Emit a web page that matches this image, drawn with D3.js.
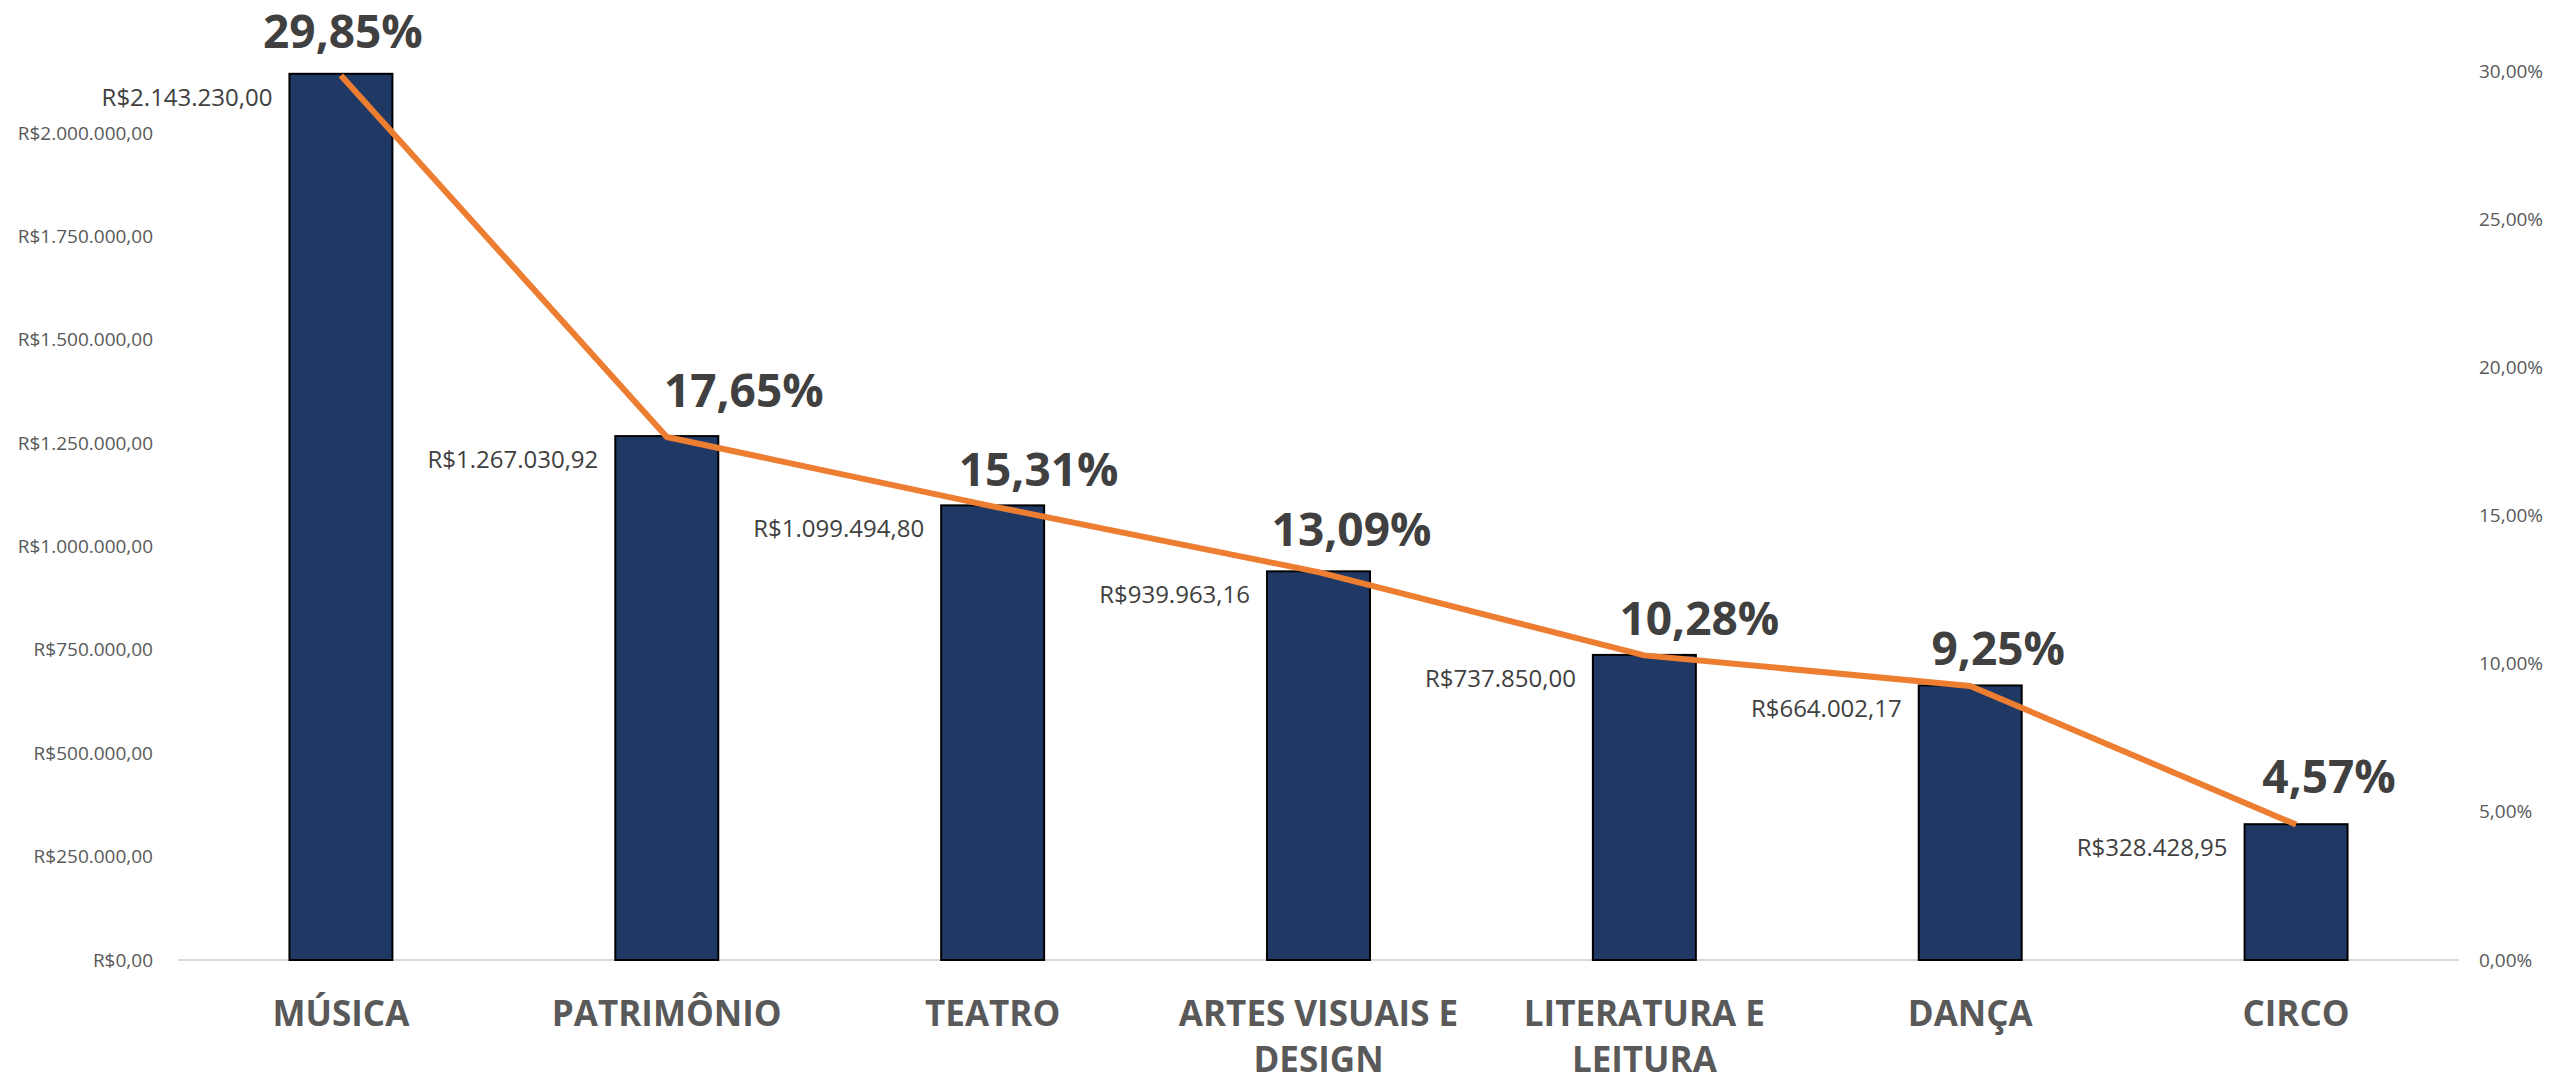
<!DOCTYPE html>
<html>
<head>
<meta charset="utf-8">
<script src="https://cdn.jsdelivr.net/npm/d3@7"></script>
<style>
  html, body { margin: 0; padding: 0; background: #fff; }
  svg { display: block; }
</style>
</head>
<body>
<svg id="chart" width="2552" height="1084"></svg>
<script>
// ---- data ----
const categorias = [["MÚSICA"], ["PATRIMÔNIO"], ["TEATRO"], ["ARTES VISUAIS E", "DESIGN"], ["LITERATURA E", "LEITURA"], ["DANÇA"], ["CIRCO"]];
const valores = [2143230.00, 1267030.92, 1099494.80, 939963.16, 737850.00, 664002.17, 328428.95];
const percentuais = [0.2985, 0.1765, 0.1531, 0.1309, 0.1028, 0.0925, 0.0457];
const ticksValor = [0, 250000, 500000, 750000, 1000000, 1250000, 1500000, 1750000, 2000000];
const ticksPerc = [0, 0.05, 0.10, 0.15, 0.20, 0.25, 0.30];

// label placement offsets (layout, px) for the percentage labels
const pctDx = [2, 77, 46, 33, 55, 28, 33];
const pctDy = [-27, -30, -20, -26, -20, -21, -32];

// ---- layout ----
const W = 2552, H = 1084;
const x0 = 178, x1 = 2459, yBase = 960, yTop = 71;

const loc = d3.formatLocale({decimal: ",", thousands: ".", grouping: [3], currency: ["R$", ""]});
const fmtMoney = loc.format("$,.2f");
const fmtPct = loc.format(".2%");

const svg = d3.select("#chart");
const ids = d3.range(categorias.length);

const x = d3.scaleBand().domain(ids).range([x0, x1]).paddingInner(0).paddingOuter(0);
const barW = x.bandwidth() * 0.316;
const yL = d3.scaleLinear().domain([0, 2150000]).range([yBase, yTop]);
const yR = d3.scaleLinear().domain([0, 0.30]).range([yBase, yTop]);

const font = "'Open Sans', 'DejaVu Sans', sans-serif";

// left axis
const axL = svg.append("g").attr("transform", `translate(153,0)`)
  .call(d3.axisLeft(yL).tickValues(ticksValor).tickFormat(fmtMoney).tickSize(0).tickPadding(0));
axL.select(".domain").remove();
axL.selectAll("text").attr("font-family", font).attr("font-size", 19).attr("fill", "#595959");

// right axis
const axR = svg.append("g").attr("transform", `translate(2479,0)`)
  .call(d3.axisRight(yR).tickValues(ticksPerc).tickFormat(fmtPct).tickSize(0).tickPadding(0));
axR.select(".domain").remove();
axR.selectAll("text").attr("font-family", font).attr("font-size", 19).attr("fill", "#595959");

// baseline
svg.append("line").attr("x1", x0).attr("x2", x1).attr("y1", yBase).attr("y2", yBase)
  .attr("stroke", "#d9d9d9").attr("stroke-width", 2);

// bars
svg.append("g").selectAll("rect").data(ids).join("rect")
  .attr("x", i => x(i) + x.bandwidth() / 2 - barW / 2)
  .attr("y", i => yL(valores[i]))
  .attr("width", barW)
  .attr("height", i => yBase - yL(valores[i]))
  .attr("fill", "#203864")
  .attr("stroke", "#000")
  .attr("stroke-width", 2);

// value labels
svg.append("g").selectAll("text").data(ids).join("text")
  .attr("x", i => x(i) + x.bandwidth() / 2 - barW / 2 - 17)
  .attr("y", i => yL(valores[i]) + 32)
  .attr("text-anchor", "end")
  .attr("font-family", font).attr("font-size", 24).attr("fill", "#404040")
  .text(i => fmtMoney(valores[i]));

// line
const line = d3.line().x(i => x(i) + x.bandwidth() / 2).y(i => yR(percentuais[i]));
svg.append("path").datum(ids).attr("d", line)
  .attr("fill", "none").attr("stroke", "#ED7D31").attr("stroke-width", 6)
  .attr("stroke-linejoin", "round");

// pct labels
svg.append("g").selectAll("text").data(ids).join("text")
  .attr("x", i => x(i) + x.bandwidth() / 2 + pctDx[i])
  .attr("y", i => yR(percentuais[i]) + pctDy[i])
  .attr("text-anchor", "middle")
  .attr("font-family", font).attr("font-size", 46).attr("font-weight", "bold").attr("fill", "#404040")
  .text(i => fmtPct(percentuais[i]));

// category labels
const cat = svg.append("g").selectAll("text").data(ids).join("text")
  .attr("text-anchor", "middle")
  .attr("font-family", font).attr("font-size", 35).attr("font-weight", "bold").attr("fill", "#595959");
cat.each(function(i) {
  const t = d3.select(this);
  categorias[i].forEach((ln, k) => {
    t.append("tspan").attr("x", x(i) + x.bandwidth() / 2).attr("y", 1026 + k * 46).text(ln);
  });
});
</script>
</body>
</html>
